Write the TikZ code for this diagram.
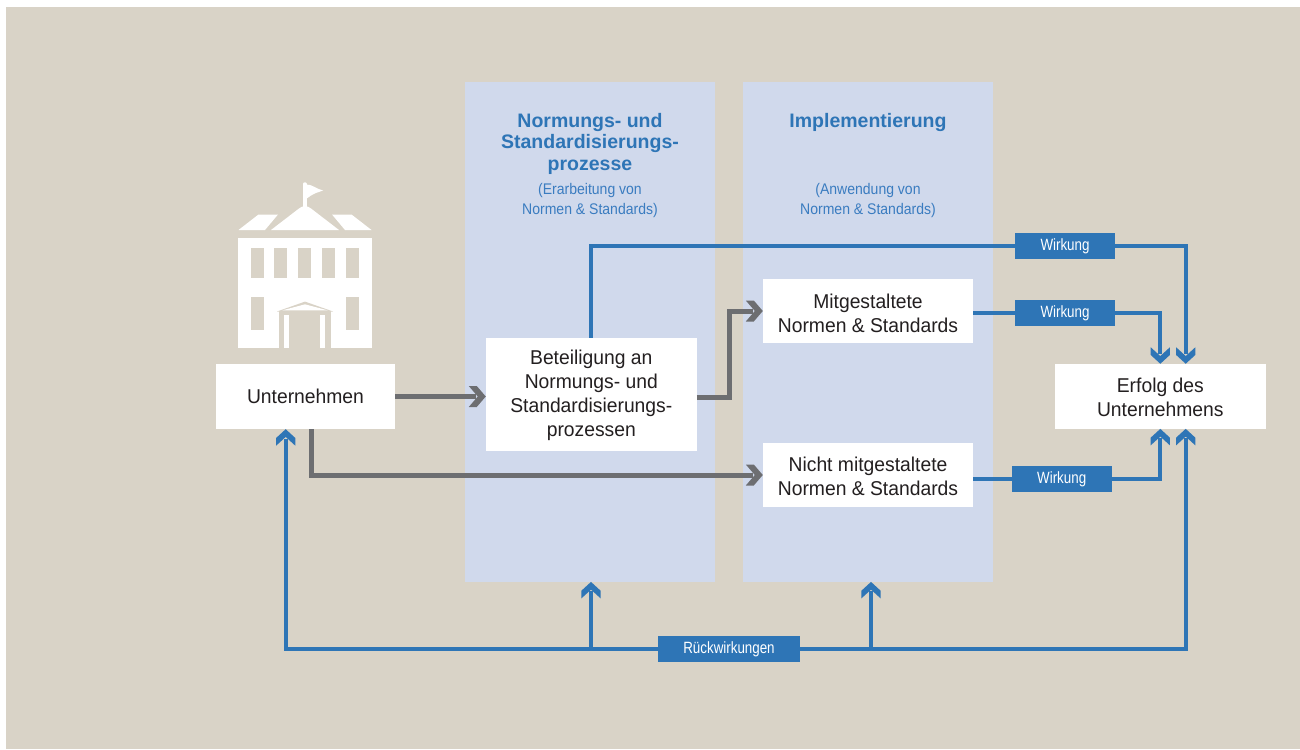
\documentclass[tikz,border=0pt]{standalone}
\usepackage{fontspec}
\setmainfont{Liberation Sans}
\newfontfamily\bodyf{Liberation Sans}[FakeStretch=0.965]
\newfontfamily\condf{Liberation Sans}[FakeStretch=0.82]
\newfontfamily\subf{Liberation Sans}[FakeStretch=0.91]
\usetikzlibrary{arrows.meta,calc}
\definecolor{bgc}{HTML}{D9D3C7}
\definecolor{colc}{HTML}{D0D9EC}
\definecolor{bluec}{HTML}{2E75B6}
\definecolor{subc}{HTML}{3A7CC0}
\definecolor{grayc}{HTML}{6D6E71}
\definecolor{txtc}{HTML}{231F20}
\pgfdeclarearrow{
  name=BChev,
  setup code={
    \pgfarrowssettipend{0pt}
    \pgfarrowssetbackend{-16.5pt}
    \pgfarrowssetlineend{-9.5pt}
    \pgfarrowshullpoint{0pt}{0pt}
    \pgfarrowsupperhullpoint{-16.5pt}{9.6pt}
  },
  drawing code={
    \pgfpathmoveto{\pgfpoint{0pt}{0pt}}
    \pgfpathlineto{\pgfpoint{-8.8pt}{9.6pt}}
    \pgfpathlineto{\pgfpoint{-16.5pt}{9.6pt}}
    \pgfpathlineto{\pgfpoint{-7.7pt}{0pt}}
    \pgfpathlineto{\pgfpoint{-16.5pt}{-9.6pt}}
    \pgfpathlineto{\pgfpoint{-8.8pt}{-9.6pt}}
    \pgfpathclose
    \pgfusepathqfill
  }
}
\pgfdeclarearrow{
  name=GChev,
  setup code={
    \pgfarrowssettipend{0pt}
    \pgfarrowssetbackend{-17pt}
    \pgfarrowssetlineend{-10pt}
    \pgfarrowshullpoint{0pt}{0pt}
    \pgfarrowsupperhullpoint{-17pt}{10.5pt}
  },
  drawing code={
    \pgfpathmoveto{\pgfpoint{0pt}{0pt}}
    \pgfpathlineto{\pgfpoint{-9pt}{10.5pt}}
    \pgfpathlineto{\pgfpoint{-17pt}{10.5pt}}
    \pgfpathlineto{\pgfpoint{-8pt}{0pt}}
    \pgfpathlineto{\pgfpoint{-17pt}{-10.5pt}}
    \pgfpathlineto{\pgfpoint{-9pt}{-10.5pt}}
    \pgfpathclose
    \pgfusepathqfill
  }
}
\tikzset{
  box/.style={fill=white, inner sep=0pt},
  boxtxt/.style={inner sep=0pt, align=center, text=txtc,
    font=\bodyf\fontsize{20}{24}\selectfont},
  lbl/.style={fill=bluec, text=white, inner sep=0pt, minimum height=26pt,
    font=\condf\fontsize{16.3}{18}\selectfont},
  colbox/.style={fill=colc, inner sep=0pt},
  hd/.style={text=bluec, inner sep=0pt, align=center,
    font=\bfseries\fontsize{19.5}{21.5}\selectfont},
  subhd/.style={text=subc, inner sep=0pt, align=center,
    font=\subf\fontsize{15.4}{19.8}\selectfont},
  gline/.style={draw=grayc, line width=5pt, -GChev},
  bline/.style={draw=bluec, line width=4pt}
}
\begin{document}
\begin{tikzpicture}[x=1pt,y=-1pt]
% background
\fill[white] (0,0) rectangle (1300,749);
\fill[bgc] (6,7) rectangle (1300,749);
\useasboundingbox (0,0) rectangle (1300,749);

% columns
\node[colbox, minimum width=250pt, minimum height=499.7pt] (c1) at (590,331.85) {};
\node[colbox, minimum width=250pt, minimum height=499.7pt] (c2) at (868,331.85) {};

% building icon
\fill[white] (237.7,238) rectangle (372.3,348);
\foreach \x in {251,274.4,298.3,322.3,346}
  \fill[bgc] (\x,247.7) rectangle ++(12.7,30.6);
\fill[bgc] (251,296.7) rectangle ++(12.7,33.3);
\fill[bgc] (346,296.7) rectangle ++(12.7,33.3);
\fill[bgc] (305,301.6) -- (333,311.5) -- (277,311.5) -- cycle;
\fill[white] (305,304.3) -- (327.5,310.3) -- (282.5,310.3) -- cycle;
\fill[bgc] (279,310.5) rectangle (331,315);
\fill[bgc] (279,315) rectangle (284.3,348);
\fill[bgc] (289.3,315) rectangle (320.3,348);
\fill[bgc] (325.3,315) rectangle (330.5,348);
\fill[white] (238.5,230) -- (258.5,214.5) -- (278,214.5) -- (265,230) -- cycle;
\fill[white] (371.5,230) -- (351.5,214.5) -- (332,214.5) -- (345,230) -- cycle;
\fill[white] (271,230) -- (299,208.5) .. controls (302,205.5) and (308,205.5) .. (311,208.5) -- (339,230) -- cycle;
\draw[white, line width=3.4pt, line cap=round] (304.8,184) -- (304.8,208);
\fill[white] (306,184.5) .. controls (312,184) and (316,189) .. (323,190.5) -- (316,193) .. controls (312,194.5) and (309,197) .. (306,199) -- cycle;

% boxes
\node[box, minimum width=179pt, minimum height=65pt] (unt) at (305.5,396.5) {};
\node[boxtxt] (untt) at (unt.center) {Unternehmen};
\node[box, minimum width=210.7pt, minimum height=113pt] (bet) at (591.3,394.5) {};
\node[boxtxt] (bett) at ([yshift=-1pt]bet.center)
  {Beteiligung an\\Normungs- und\\Standardisierungs-\\prozessen};
\node[box, minimum width=210pt, minimum height=64pt] (mit) at (868,311) {};
\node[boxtxt] (mitt) at ([yshift=-2pt]mit.center) {Mitgestaltete\\Normen \& Standards};
\node[box, minimum width=210pt, minimum height=64pt] (nicht) at (868,475) {};
\node[boxtxt] (nichtt) at ([yshift=-1.5pt]nicht.center) {Nicht mitgestaltete\\Normen \& Standards};
\node[box, minimum width=210.7pt, minimum height=64.7pt] (erf) at (1160.3,396.3) {};
\node[boxtxt] (erft) at ([yshift=-1.5pt]erf.center) {Erfolg des\\Unternehmens};

% headers
\node[hd, anchor=north] (h1) at (590,113) {Normungs- und\\Standardisierungs-\\prozesse};
\node[hd, anchor=north] (h2) at (868,113) {Implementierung};
\node[subhd, anchor=north] (s1) at (590,183.5) {(Erarbeitung von\\Normen \& Standards)};
\node[subhd, anchor=north] (s2) at (868,183.5) {(Anwendung von\\Normen \& Standards)};

% gray connectors
\draw[gline] (unt.east) -- (bet.west |- unt.east);
\coordinate (g1) at (729.5,311);
\draw[gline] ([yshift=-3pt]bet.east) -| (g1) -- (mit.west);
\draw[gline] ([xshift=6pt]unt.south) |- (nicht.west);

% blue connectors
\coordinate (r1) at (1185.7,246);
\draw[bline,-BChev] (bet.north) |- (r1) -- (erf.north -| r1);
\draw[bline,-BChev] ([yshift=-2pt]mit.east) -| (erf.north);
\draw[bline,-BChev] ([yshift=-4pt]nicht.east) -| (erf.south);
\coordinate (r2) at (1185.7,649);
\draw[bline,BChev-BChev] ([xshift=-19.8pt]unt.south) |- (r2) -- (erf.south -| r2);
\draw[bline,-BChev] ([xshift=1pt]c1.south |- r2) -- ([xshift=1pt]c1.south);
\draw[bline,-BChev] ([xshift=3pt]c2.south |- r2) -- ([xshift=3pt]c2.south);

% labels
\node[lbl, minimum width=100pt] (wk1) at (1065,246) {Wirkung};
\node[lbl, minimum width=100pt] (wk2) at (1065,313) {Wirkung};
\node[lbl, minimum width=100pt] (wk3) at (1061.7,478.8) {Wirkung};
\node[lbl, minimum width=142pt] (rk) at (729,649) {Rückwirkungen};
\end{tikzpicture}
\end{document}
